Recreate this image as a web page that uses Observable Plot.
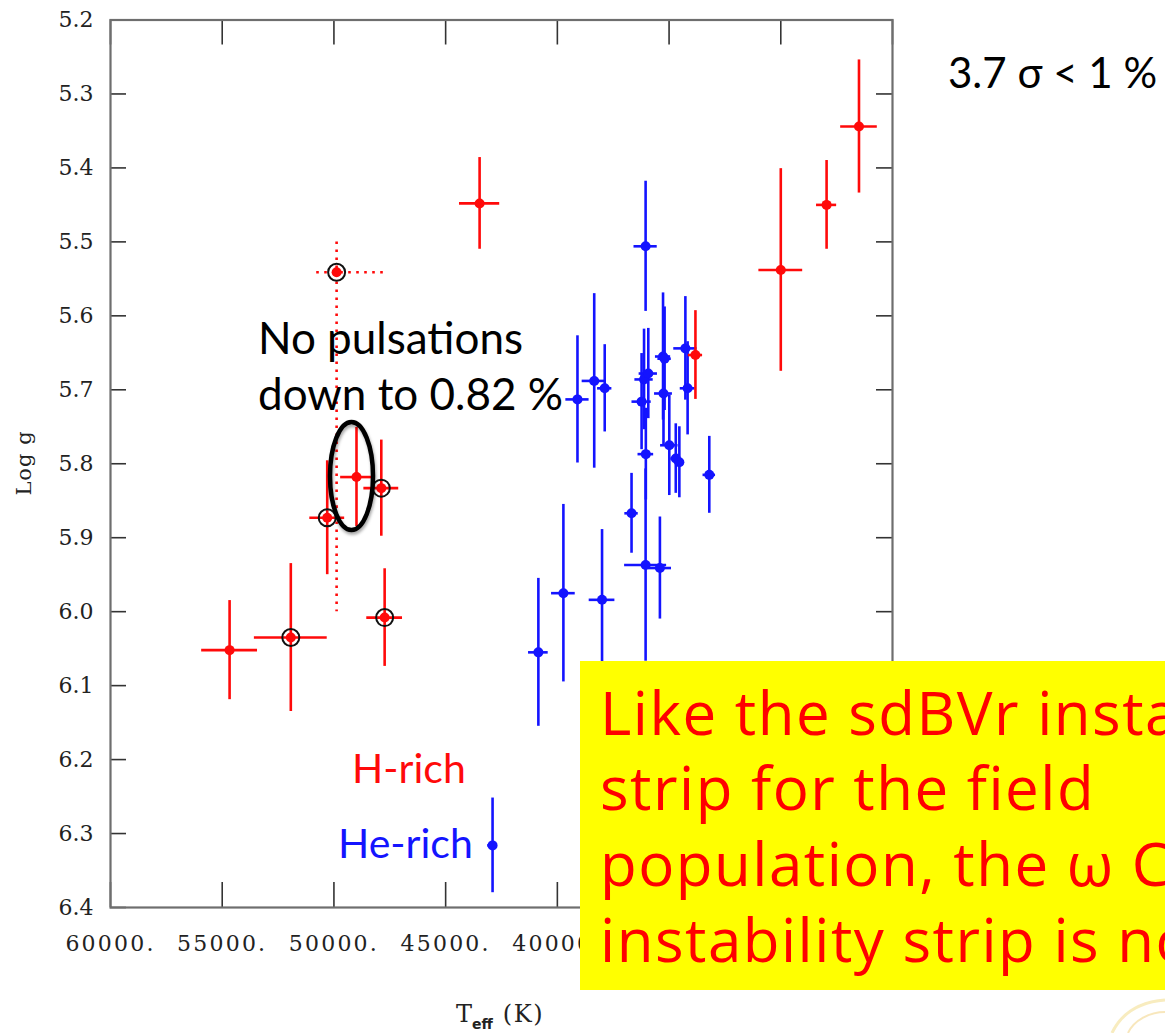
<!DOCTYPE html>
<html>
<head>
<meta charset="utf-8">
<script src="https://cdn.jsdelivr.net/npm/d3@7"></script>
<script src="https://cdn.jsdelivr.net/npm/@observablehq/plot@0.6"></script>
<style>
  html, body { margin: 0; padding: 0; background: #fff; overflow: hidden; width: 1165px; height: 1033px; }
  #chart svg { display: block; overflow: hidden; }
</style>
</head>
<body>
<div id="chart"></div>
<script>
// ---- H-rich stars (red): Teff (K), log g, and their 1-sigma errors ----
const hTeff    = [26500, 27950, 30000, 43480, 33820, 50300, 48990, 47880, 47730, 51930, 54670];
const hLogg    = [5.344, 5.450, 5.538, 5.448, 5.653, 5.873, 5.818, 5.833, 6.008, 6.035, 6.052];
const hTeffErr = [820, 450, 980, 900, 320, 780, 710, 780, 800, 1630, 1250];
const hLoggErr = [0.090, 0.060, 0.137, 0.062, 0.060, 0.077, 0.067, 0.065, 0.066, 0.100, 0.067];
const hCircled = [false, false, false, false, false, true, false, true, true, true, false];
const hHighlighted = 6; // the star singled out by the ellipse

// ---- H-rich star with only a range of plausible parameters (dotted bars) ----
const rangeTeff      = [49880];
const rangeLogg      = [5.541];
const rangeTeffSpan  = [[47790, 51010]];
const rangeLoggSpan  = [[5.50, 6.00]];

// ---- He-rich stars (blue) ----
const heTeff    = [36050, 39100, 38350, 37880, 36230, 36120, 35930, 36040, 35270, 35200, 35250, 34270,
                   34170, 34990, 34700, 34540, 33200, 36680, 36050, 35410, 38000, 39730, 40850, 42900];
const heLogg    = [5.506, 5.713, 5.688, 5.698, 5.716, 5.686, 5.678, 5.787, 5.655, 5.658, 5.705, 5.644,
                   5.698, 5.775, 5.793, 5.798, 5.815, 5.867, 5.937, 5.941, 5.984, 5.975, 6.055, 6.316];
const heTeffErr = [520, 520, 540, 320, 430, 410, 410, 350, 340, 300, 400, 520,
                   330, 390, 220, 220, 280, 300, 940, 520, 575, 530, 440, 220];
const heLoggErr = [0.088, 0.086, 0.118, 0.059, 0.065, 0.068, 0.061, 0.062, 0.086, 0.070, 0.070, 0.070,
                   0.063, 0.068, 0.047, 0.048, 0.052, 0.054, 0.130, 0.069, 0.095, 0.120, 0.100, 0.064];

// ---- axis ticks (labels only where they are not under the call-out box) ----
const xTicks = [60000, 55000, 50000, 45000, 40000, 35000, 30000, 25000];
const xTickLabels = [60000, 55000, 50000, 45000, 40000];
const yTicks = [5.2, 5.3, 5.4, 5.5, 5.6, 5.7, 5.8, 5.9, 6.0, 6.1, 6.2, 6.3, 6.4];

// ---- text ----
const noPulsLines = ["No pulsations", "down to 0.82 %"];
const sigmaNote = "3.7 σ < 1 %";
const boxLines = ["Like the sdBVr instability", "strip for the field", "population, the ω Cen", "instability strip is not"];

const RED = "#ff0a0a", BLUE = "#1414ff";
const W = 1165, H = 1033;
const mL = 110, mR = 273, mT = 19.5, mB = 126;
const frameW = W - mL - mR, frameH = H - mT - mB;

const hStars = hTeff.map((t, i) => ({teff: t, logg: hLogg[i], dT: hTeffErr[i], dG: hLoggErr[i], circled: hCircled[i]}));
const heStars = heTeff.map((t, i) => ({teff: t, logg: heLogg[i], dT: heTeffErr[i], dG: heLoggErr[i]}));
const rangeStars = rangeTeff.map((t, i) => ({teff: t, logg: rangeLogg[i], tSpan: rangeTeffSpan[i], gSpan: rangeLoggSpan[i]}));

const serif = "'DejaVu Serif', serif";

function errorBars(data, color) {
  return [
    Plot.ruleY(data, {y: "logg", x1: d => d.teff - d.dT, x2: d => d.teff + d.dT, stroke: color, strokeWidth: 2.6}),
    Plot.ruleX(data, {x: "teff", y1: d => d.logg - d.dG, y2: d => d.logg + d.dG, stroke: color, strokeWidth: 2.6}),
    Plot.dot(data, {x: "teff", y: "logg", r: 5, fill: color, stroke: null})
  ];
}

const plot = Plot.plot({
  width: W,
  height: H,
  marginLeft: mL, marginRight: mR, marginTop: mT, marginBottom: mB,
  style: {background: "#fff", overflow: "hidden"},
  x: {domain: [60000, 25000], label: null},
  y: {domain: [5.2, 6.4], reverse: true, label: null},
  marks: [
    // inward tick marks on all four sides
    Plot.ruleX(xTicks, {x: d => d, insetTop: frameH - 25, stroke: "#333", strokeWidth: 1.6}),
    Plot.ruleX(xTicks, {x: d => d, insetBottom: frameH - 25, stroke: "#333", strokeWidth: 1.6}),
    Plot.ruleY(yTicks, {y: d => d, insetRight: frameW - 16, stroke: "#333", strokeWidth: 1.6}),
    Plot.ruleY(yTicks, {y: d => d, insetLeft: frameW - 16, stroke: "#333", strokeWidth: 1.6}),
    Plot.frame({stroke: "#6e6e6e", strokeWidth: 2.2}),
    Plot.axisX({ticks: xTickLabels, anchor: "bottom", tickSize: 0, tickPadding: 28, tickFormat: d => d + ".",
                fontFamily: serif, fontSize: 22, fill: "#222", label: null}),
    Plot.axisY({ticks: yTicks, anchor: "left", tickSize: 0, tickPadding: 17, tickFormat: d => d.toFixed(1),
                fontFamily: serif, fontSize: 22, fill: "#222", label: null}),
    // He-rich
    ...errorBars(heStars, BLUE),
    // H-rich star with a range only (dotted bars)
    Plot.ruleY(rangeStars, {y: "logg", x1: d => d.tSpan[0], x2: d => d.tSpan[1], stroke: RED, strokeWidth: 2.6, strokeDasharray: "2.6,5.4"}),
    Plot.ruleX(rangeStars, {x: "teff", y1: d => d.gSpan[0], y2: d => d.gSpan[1], stroke: RED, strokeWidth: 2.6, strokeDasharray: "2.6,5.4"}),
    Plot.dot(rangeStars, {x: "teff", y: "logg", r: 8.5, fill: "none", stroke: "#111", strokeWidth: 2}),
    Plot.dot(rangeStars, {x: "teff", y: "logg", r: 5, fill: RED, stroke: null}),
    // H-rich
    ...errorBars(hStars, RED),
    Plot.dot(hStars.filter(d => d.circled), {x: "teff", y: "logg", r: 8.5, fill: "none", stroke: "#111", strokeWidth: 2})
  ]
});

document.getElementById("chart").appendChild(plot);

// wider spacing for the Teff tick labels
d3.select(plot).selectAll("g[aria-label^='x-axis'] text, g[aria-label^='x-axis'] tspan")
  .style("letter-spacing", "2.2px");

// scales used for the annotation ellipse
let xs, ys;
try {
  xs = plot.scale("x").apply; ys = plot.scale("y").apply;
  if (typeof xs !== "function") throw 0;
} catch (e) {
  const xl = d3.scaleLinear().domain([60000, 25000]).range([mL, W - mR]);
  const yl = d3.scaleLinear().domain([5.2, 6.4]).range([mT, H - mB]);
  xs = v => xl(v); ys = v => yl(v);
}

const svg = d3.select(plot);
const defs = svg.append("defs");
const f = defs.append("filter").attr("id", "shadow").attr("x", "-50%").attr("y", "-50%").attr("width", "200%").attr("height", "200%");
f.append("feDropShadow").attr("dx", 1).attr("dy", 2.5).attr("stdDeviation", 1.6).attr("flood-color", "#000").attr("flood-opacity", 0.35);

// ellipse around the highlighted star
const hs = hStars[hHighlighted];
svg.append("ellipse")
  .attr("cx", xs(hs.teff) - 4.5).attr("cy", ys(hs.logg) - 0.5)
  .attr("rx", 21.5).attr("ry", 54)
  .attr("fill", "none").attr("stroke", "#000").attr("stroke-width", 4.5)
  .attr("filter", "url(#shadow)");

// axis titles
svg.append("text").attr("transform", "translate(31,463) rotate(-90)")
  .attr("text-anchor", "middle").attr("font-family", serif).attr("font-size", 21)
  .attr("letter-spacing", 1).attr("fill", "#222").text("Log g");
const xt = svg.append("text").attr("x", 456).attr("y", 1022).attr("text-anchor", "start")
  .attr("font-family", serif).attr("font-size", 24).attr("fill", "#222");
xt.append("tspan").text("T");
xt.append("tspan").attr("dy", 7).attr("font-size", 14).attr("font-family", "'DejaVu Sans', sans-serif").attr("font-weight", "bold").text("eff");
xt.append("tspan").attr("dy", -7).attr("dx", 10).attr("letter-spacing", 1.5).text("(K)");

// slide annotations
const sans = "Lato, 'Open Sans', sans-serif";
const np = svg.append("text").attr("text-anchor", "start").attr("font-family", sans).attr("font-size", 44).attr("fill", "#000");
noPulsLines.forEach((s, i) => np.append("tspan").attr("x", 258).attr("y", 354 + i * 56).text(s));
svg.append("text").attr("text-anchor", "start").attr("x", 948).attr("y", 88).attr("font-family", sans).attr("font-size", 42).attr("fill", "#000").text(sigmaNote);
svg.append("text").attr("text-anchor", "start").attr("x", 352).attr("y", 783).attr("font-family", sans).attr("font-size", 41).attr("fill", RED).text("H-rich");
svg.append("text").attr("text-anchor", "start").attr("x", 338).attr("y", 858).attr("font-family", sans).attr("font-size", 41).attr("fill", BLUE).text("He-rich");

// yellow call-out box, its text running past the right edge of the page
svg.append("rect").attr("x", 580).attr("y", 661).attr("width", 600).attr("height", 329).attr("fill", "#ffff00");
const bt = svg.append("text").attr("text-anchor", "start").attr("font-family", "'Comic Sans MS', 'Open Sans', sans-serif")
  .attr("font-size", 60).attr("letter-spacing", 1.5).attr("fill", "#ff0000");
boxLines.forEach((s, i) => bt.append("tspan").attr("x", 600).attr("y", [735, 810, 886, 962][i]).text(s));

// faint decoration in the lower right corner of the slide
svg.append("path").attr("d", "M1112,1033 C1122,1012 1140,1002 1165,1000")
  .attr("fill", "none").attr("stroke", "#f3dc8a").attr("stroke-width", 3).attr("opacity", 0.55);
svg.append("path").attr("d", "M1128,1033 C1134,1020 1150,1012 1165,1012")
  .attr("fill", "none").attr("stroke", "#f0c96a").attr("stroke-width", 2).attr("opacity", 0.45);
</script>
</body>
</html>
